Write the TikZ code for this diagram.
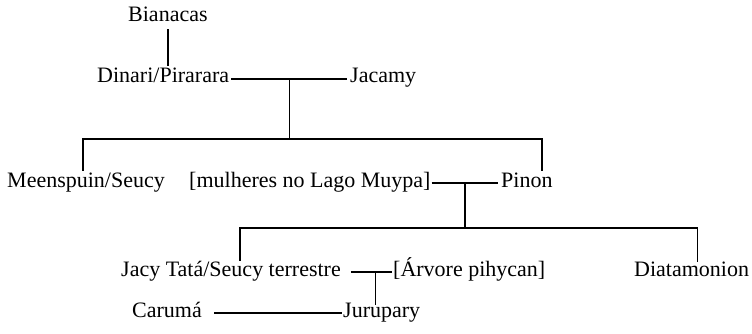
\documentclass[tikz,border=0pt]{standalone}
\usepackage{fontspec}
\setmainfont{Liberation Serif}
\usetikzlibrary{calc}
\begin{document}
\begin{tikzpicture}[x=1pt,y=-1pt,
  lab/.style={anchor=base west, inner sep=0pt, text height=0.8em, text depth=0pt,
              font=\fontsize{22}{24}\selectfont},
  link/.style={line width=1.3pt, black}]
\useasboundingbox (0,0) rectangle (752,334);
% people
\node[lab] (bian)   at (128,22)  {Bianacas};
\node[lab] (dinari) at (97,83)   {Dinari/Pirarara};
\node[lab] (jacamy) at (350,83)  {Jacamy};
\node[lab] (meen)   at (7,187)   {Meenspuin/Seucy};
\node[lab] (mulh)   at (189,187) {[mulheres no Lago Muypa]};
\node[lab] (pinon)  at (501,187) {Pinon};
\node[lab] (jacy)   at (121,276) {Jacy Tatá/Seucy terrestre};
\node[lab] (arvore) at (393,276) {[Árvore pihycan]};
\node[lab] (diat)   at (634,276) {Diatamonion};
\node[lab] (caruma) at (132,317) {Carumá};
\node[lab] (jurup)  at (343,317) {Jurupary};
% Bianacas -> Dinari
\draw[link, shorten <=7pt, shorten >=9pt] (bian.south) -- (bian.south |- dinari.north);
% Dinari + Jacamy
\draw[link] ([xshift=2pt]dinari.east) -- ([xshift=-3pt]jacamy.west);
\coordinate (j1) at ($([xshift=2pt]dinari.east)!0.5!([xshift=-3pt]jacamy.west)$);
\draw[link] (j1) -- ++(0,60) coordinate (b1);
\draw[link] ([xshift=-3pt,yshift=8pt]meen.north) |- (b1) -| ([xshift=15pt,yshift=8pt]pinon.north);
% mulheres + Pinon
\draw[link] ([xshift=1pt]mulh.east) -- ([xshift=-3pt]pinon.west);
\coordinate (j2) at ($([xshift=1pt]mulh.east)!0.5!([xshift=-3pt]pinon.west)$);
\draw[link] (j2) -- ++(0,45) coordinate (b2);
\draw[link] ([xshift=9pt,yshift=7pt]jacy.north) |- (b2) -| ([xshift=6pt,yshift=6pt]diat.north);
% Jacy + Arvore
\draw[link] ([xshift=10pt]jacy.east) -- ([xshift=-1pt]arvore.west);
\coordinate (j3) at ($([xshift=10pt]jacy.east)!0.6!([xshift=-1pt]arvore.west)$);
\draw[link, shorten >=4pt] (j3) -- (j3 |- jurup.north);
% Caruma + Jurupary
\draw[link] ([xshift=12pt]caruma.east) -- ([xshift=-1pt]jurup.west);
\end{tikzpicture}
\end{document}
